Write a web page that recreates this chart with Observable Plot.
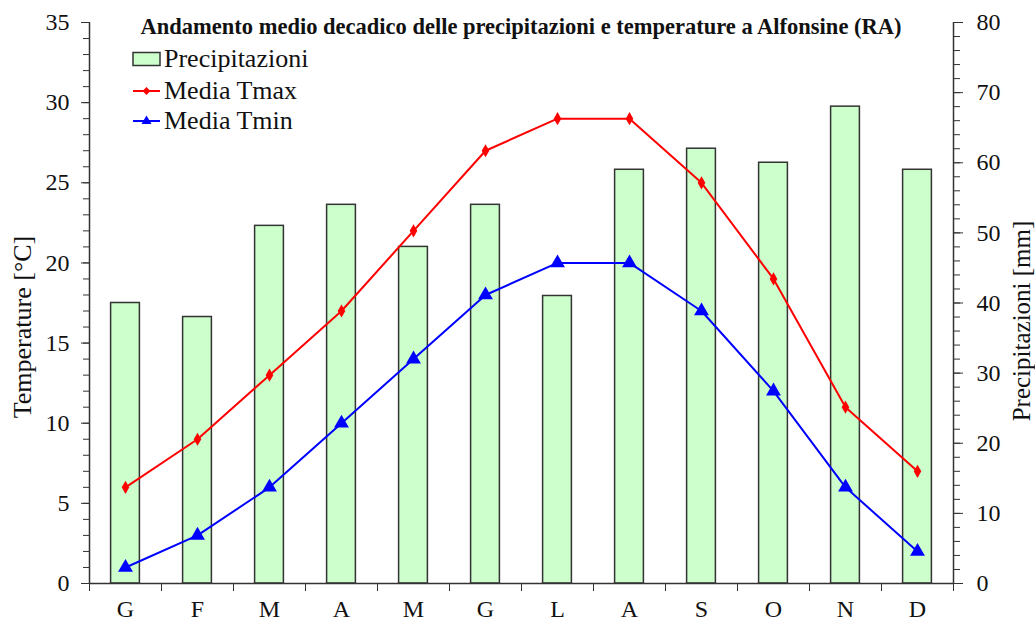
<!DOCTYPE html>
<html><head><meta charset="utf-8">
<script src="https://cdn.jsdelivr.net/npm/d3@7"></script>
<script src="https://cdn.jsdelivr.net/npm/@observablehq/plot@0.6"></script>
<style>
body{margin:0;background:#fff;}
#wrap{position:relative;width:1035px;height:625px;font-family:"Liberation Serif","Times New Roman",serif;color:#111;}
#title{position:absolute;left:89px;width:864px;top:14px;text-align:center;font-weight:bold;font-size:22.5px;line-height:26px;white-space:nowrap;}
.leg{position:absolute;left:131px;font-size:26px;line-height:26px;display:flex;align-items:center;white-space:nowrap;}
.leg svg{margin-right:2px;}
</style></head><body><div id="wrap"></div>
<script>
const months = ["G","F","M","A","M","G","L","A","S","O","N","D"];
const precip = [40,38,51,54,48,54,41,59,62,60,68,59];
const tmax = [6,9,13,17,22,27,29,29,25,19,11,7];
const tmin = [1,3,6,10,14,18,20,20,17,12,6,2];
const tempTicks = [0,5,10,15,20,25,30,35];
const precipTicks = [0,10,20,30,40,50,60,70,80];
const TMAX = 35, PMAX = 80;
const k = TMAX / PMAX;
const data = months.map((m, i) => ({i, m, p: precip[i], tmax: tmax[i], tmin: tmin[i]}));
const font = '"Liberation Serif","Times New Roman",serif';
const axisColor = "#333";

const chart = Plot.plot({
  width: 1035, height: 625,
  marginLeft: 89, marginRight: 82, marginTop: 22, marginBottom: 42,
  style: {fontFamily: font, fontSize: "24px", color: "#111", background: "#fff"},
  x: {type: "linear", domain: [0, 12], axis: null},
  y: {domain: [0, TMAX], axis: null},
  marks: [
    Plot.rectY(data, {x1: d => d.i + 0.3, x2: d => d.i + 0.7, y1: 0, y2: d => d.p * k,
      fill: "#ccffcc", stroke: "#333", strokeWidth: 1.5}),
    Plot.line(data, {x: d => d.i + 0.5, y: "tmax", stroke: "#ff0000", strokeWidth: 2}),
    Plot.dot(data, {x: d => d.i + 0.5, y: "tmax", symbol: "diamond", fill: "#ff0000", r: 4}),
    Plot.line(data, {x: d => d.i + 0.5, y: "tmin", stroke: "#0000ff", strokeWidth: 2}),
    Plot.dot(data, {x: d => d.i + 0.5, y: "tmin", symbol: "triangle", fill: "#0000ff", r: 5.5}),
    // axis lines
    Plot.ruleY([0], {stroke: axisColor, strokeWidth: 1.5}),
    Plot.ruleX([0], {stroke: axisColor, strokeWidth: 1.5}),
    Plot.ruleX([12], {stroke: axisColor, strokeWidth: 1.5}),
    // left axis
    Plot.axisY(d3.range(0, TMAX + 1, 1), {anchor: "left", tickSize: 6, tickFormat: () => "", label: null, stroke: axisColor}),
    Plot.axisY(tempTicks, {anchor: "left", tickSize: 8, tickPadding: 12, fontSize: 24, label: null, stroke: axisColor}),
    // right axis
    Plot.axisY(d3.range(0, PMAX + 1, 2).map(v => v * k), {anchor: "right", tickSize: 6, tickFormat: () => "", label: null, stroke: axisColor}),
    Plot.axisY(precipTicks.map(v => v * k), {anchor: "right", tickSize: 9, tickPadding: 14, fontSize: 24,
      tickFormat: d => Math.round(d / k), label: null, stroke: axisColor}),
    // x axis
    Plot.axisX(d3.range(0, 13), {anchor: "bottom", tickSize: 8, tickFormat: () => "", label: null, stroke: axisColor}),
    Plot.axisX(d3.range(12).map(i => i + 0.5), {anchor: "bottom", tickSize: 0, tickPadding: 16, fontSize: 24,
      tickFormat: d => months[Math.floor(d)], label: null}),
    // axis titles
    Plot.text(["Temperature [°C]"], {frameAnchor: "left", textAnchor: "middle", dx: -67, dy: 24, rotate: -90, fontSize: 26, fill: "#111"}),
    Plot.text(["Precipitazioni [mm]"], {frameAnchor: "right", textAnchor: "middle", dx: 68, dy: 18, rotate: -90, fontSize: 25, fill: "#111"})
  ]
});

const wrap = document.getElementById("wrap");
wrap.appendChild(chart);

const title = document.createElement("div");
title.id = "title";
title.textContent = "Andamento medio decadico delle precipitazioni e temperature a Alfonsine (RA)";
wrap.appendChild(title);

const legendItems = [
  {label: "Precipitazioni", type: "bar", top: 46},
  {label: "Media Tmax", type: "line", color: "#ff0000", sym: "diamond", top: 78},
  {label: "Media Tmin", type: "line", color: "#0000ff", sym: "triangle", top: 108}
];
for (const it of legendItems) {
  const d = document.createElement("div");
  d.className = "leg";
  d.style.top = it.top + "px";
  let sw;
  if (it.type === "bar") {
    sw = `<svg width="31" height="18"><rect x="2" y="2.5" width="27" height="13" fill="#ccffcc" stroke="#333" stroke-width="1.5"/></svg>`;
  } else {
    const marker = it.sym === "diamond"
      ? `<path d="M15.5,5 L19.5,9 L15.5,13 L11.5,9 Z" fill="${it.color}"/>`
      : `<path d="M15.5,3.5 L20.5,12 L10.5,12 Z" fill="${it.color}"/>`;
    sw = `<svg width="31" height="18"><line x1="2" x2="29" y1="9" y2="9" stroke="${it.color}" stroke-width="2"/>${marker}</svg>`;
  }
  d.innerHTML = sw + `<span>${it.label}</span>`;
  wrap.appendChild(d);
}
</script></body></html>
